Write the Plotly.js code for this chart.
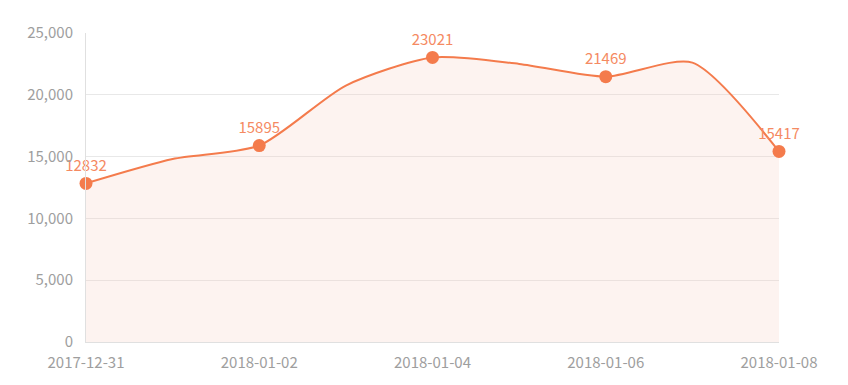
<!DOCTYPE html>
<html>
<head>
<meta charset="utf-8">
<script src="https://cdn.plot.ly/plotly-3.0.1.min.js"></script>
<style>html,body{margin:0;padding:0;background:#fff;}#chart{width:848px;height:385px;}</style>
</head>
<body>
<div id="chart"></div>
<script>
const dates = ["2017-12-31","2018-01-01","2018-01-02","2018-01-03","2018-01-04","2018-01-05","2018-01-06","2018-01-07","2018-01-08"];
const values = [12832, 14800, 15895, 20750, 23021, 22500, 21469, 22600, 15417];
const showPoint = [true, false, true, false, true, false, true, false, true];
const tickDates = ["2017-12-31","2018-01-02","2018-01-04","2018-01-06","2018-01-08"];
const yTicks = [0, 5000, 10000, 15000, 20000, 25000];

const font = "'Noto Sans CJK SC', 'Noto Sans', sans-serif";
const lineColor = "#f47b4c";

const trace = {
  x: dates,
  y: values,
  type: "scatter",
  mode: "lines+markers+text",
  line: {shape: "spline", smoothing: 0.7, color: lineColor, width: 2},
  fill: "tozeroy",
  fillcolor: "rgba(246,200,185,0.22)",
  marker: {size: showPoint.map(s => s ? 13 : 0), color: lineColor, opacity: 1, line: {width: 0}},
  text: values.map((v, i) => showPoint[i] ? String(v) : ""),
  textposition: "top center",
  textfont: {family: font, size: 15, color: "#f58a62"},
  cliponaxis: false,
  hoverinfo: "x+y"
};

const layout = {
  width: 848,
  height: 385,
  margin: {l: 86, r: 69, t: 33, b: 43},
  paper_bgcolor: "#fff",
  plot_bgcolor: "#fff",
  showlegend: false,
  font: {family: font, size: 15, color: "#9e9e9e"},
  xaxis: {
    type: "date",
    range: ["2017-12-31", "2018-01-08"],
    tickvals: tickDates,
    ticktext: tickDates,
    showgrid: false,
    showline: true,
    linecolor: "#e0e0e0",
    linewidth: 1,
    ticks: "outside",
    ticklen: 7,
    tickcolor: "rgba(0,0,0,0)",
    zeroline: false,
    tickfont: {family: font, size: 15, color: "#9e9e9e"}
  },
  yaxis: {
    range: [0, 25000],
    tickvals: yTicks,
    ticktext: yTicks.map(v => v.toLocaleString("en-US")),
    showgrid: true,
    gridcolor: "#e8e8e8",
    showline: true,
    linecolor: "#e0e0e0",
    ticks: "outside",
    ticklen: 9,
    tickcolor: "rgba(0,0,0,0)",
    zeroline: false,
    tickfont: {family: font, size: 15, color: "#9e9e9e"}
  }
};

Plotly.newPlot("chart", [trace], layout, {displayModeBar: false, staticPlot: true});
</script>
</body>
</html>
